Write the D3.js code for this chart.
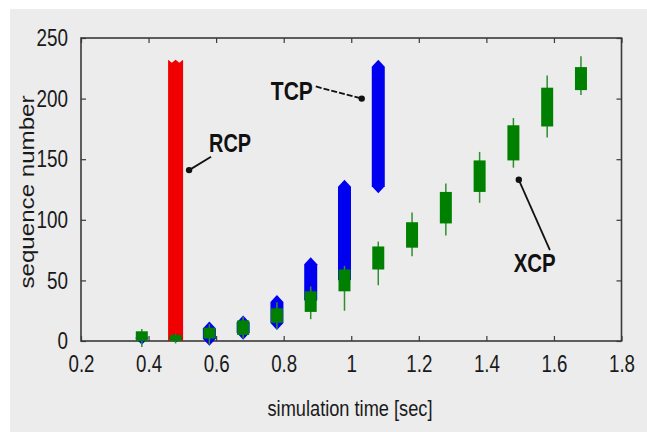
<!DOCTYPE html>
<html><head><meta charset="utf-8">
<script src="https://cdn.jsdelivr.net/npm/d3@7"></script>
<style>html,body{margin:0;padding:0;background:#fff;}svg{display:block;}</style>
</head><body>
<script>
// ---- data ----
const xTicks = [0.2,0.4,0.6,0.8,1,1.2,1.4,1.6,1.8];
const xTickLabels = ["0.2","0.4","0.6","0.8","1","1.2","1.4","1.6","1.8"];
const yTicks = [0,50,100,150,200,250];
const yTickLabels = ["0","50","100","150","200","250"];

const rcpTime = [0.48];
const rcpLow = [0];
const rcpHigh = [232];

const tcpTime = [0.38,0.48,0.58,0.68,0.78,0.88,0.98,1.08];
const tcpLow  = [-3,-1,-4,1,9,28,45,122];
const tcpHigh = [8,6,16,21,38,69,133,232];

const xcpTime      = [0.38,0.48,0.58,0.68,0.78,0.88,0.98,1.08,1.18,1.28,1.38,1.48,1.58,1.68];
const xcpBoxLow    = [0,0,2,5,15,24,41,59,77,97,123,149,177,207];
const xcpBoxHigh   = [8,5,11,17,27,41,59,78,98,123,149,178,209,226];
const xcpWhiskLow  = [-5,-2,-3,2,10,18,25,46,70,87,114,143,168,203];
const xcpWhiskHigh = [10,6,14,20,32,45,62,82,106,130,156,184,219,235];

const annLabels = ["RCP","TCP","XCP"];
const annTextPos = [[0.579,156],[0.762,199],[1.481,57]];
const annLineFrom = [[0.585,152],[0.895,210],[1.588,75]];
const annLineTo = [[0.52,141],[1.031,200],[1.496,133]];

// ---- drawing ----
const W = 647, H = 432;
const svg = d3.select("body").append("svg").attr("width", W).attr("height", H);
svg.append("rect").attr("width", W).attr("height", H).attr("fill", "#fff");
svg.append("rect").attr("x", 10).attr("y", 9).attr("width", W-10).attr("height", H-9).attr("fill", "#ececec");

const x = d3.scaleLinear().domain([0.2,1.8]).range([81,621.5]);
const y = d3.scaleLinear().domain([0,250]).range([341,38]);

const FONT = "'Liberation Sans',Arial,sans-serif";
const axisColor = "#3a3a3a";
// narrow look: compress text to a target length
const narrowLen = s => s.split("").reduce((a,c)=> a + (c === "." ? 5 : 10.5), 0);

// frame
svg.append("rect").attr("x", x(0.2)).attr("y", y(250)).attr("width", x(1.8)-x(0.2)).attr("height", y(0)-y(250))
  .attr("fill", "none").attr("stroke", axisColor).attr("stroke-width", 1.6);

// axes (inward ticks)
const xAxisB = d3.axisBottom(x).tickValues(xTicks).tickSize(-5).tickFormat((d,i)=>xTickLabels[i]).tickPadding(14);
const xAxisT = d3.axisTop(x).tickValues(xTicks).tickSize(-5).tickFormat("");
const yAxisL = d3.axisLeft(y).tickValues(yTicks).tickSize(-5).tickFormat((d,i)=>yTickLabels[i]).tickPadding(13);
const yAxisR = d3.axisRight(y).tickValues(yTicks).tickSize(-5).tickFormat("");

function styleAxis(sel){
  sel.select(".domain").remove();
  sel.selectAll(".tick line").attr("stroke", axisColor).attr("stroke-width", 1.2);
  sel.selectAll(".tick text").attr("fill", "#1a1a1a").style("font-family", FONT).style("font-size", "24px")
    .attr("textLength", function(){ return narrowLen(this.textContent); })
    .attr("lengthAdjust", "spacingAndGlyphs");
}
svg.append("g").attr("transform", `translate(0,${y(0)})`).call(xAxisB).call(styleAxis)
  .selectAll(".tick text").attr("dy", "0.71em");
svg.append("g").attr("transform", `translate(0,${y(250)})`).call(xAxisT).call(styleAxis);
svg.append("g").attr("transform", `translate(${x(0.2)},0)`).call(yAxisL).call(styleAxis);
svg.append("g").attr("transform", `translate(${x(1.8)},0)`).call(yAxisR).call(styleAxis);

// RCP red bar
svg.append("g").selectAll("path").data(rcpTime).join("path")
  .attr("fill", "#f00000")
  .attr("d", (t,i) => {
    const cx = x(t), w = 15, yt = y(rcpHigh[i]), yb = y(rcpLow[i]);
    return `M${cx-w/2},${yb} L${cx-w/2},${yt} L${cx-w/4},${yt+3} L${cx},${yt} L${cx+w/4},${yt+3} L${cx+w/2},${yt} L${cx+w/2},${yb} Z`;
  });

// TCP blue hexagonal bars
svg.append("g").selectAll("path").data(tcpTime).join("path")
  .attr("fill", "#0000f0")
  .attr("d", (t,i) => {
    const cx = x(t), w = 13, yt = y(tcpHigh[i]), yb = y(tcpLow[i]);
    const c = Math.min(7, (yb-yt)/2);
    return `M${cx},${yt} L${cx+w/2},${yt+c} L${cx+w/2},${yb-c} L${cx},${yb} L${cx-w/2},${yb-c} L${cx-w/2},${yt+c} Z`;
  });

// XCP green boxes with whiskers
const gx = svg.append("g");
gx.selectAll("line").data(xcpTime).join("line")
  .attr("x1", d=>x(d)).attr("x2", d=>x(d))
  .attr("y1", (d,i)=>y(xcpWhiskHigh[i])).attr("y2", (d,i)=>y(xcpWhiskLow[i]))
  .attr("stroke", "#2f8f2f").attr("stroke-width", 1.5);
gx.selectAll("rect").data(xcpTime).join("rect")
  .attr("x", d=>x(d)-6).attr("width", 12)
  .attr("y", (d,i)=>y(xcpBoxHigh[i])).attr("height", (d,i)=>y(xcpBoxLow[i])-y(xcpBoxHigh[i]))
  .attr("fill", "#008000");

// annotations
const ga = svg.append("g");
ga.selectAll("line").data(annLabels).join("line")
  .attr("x1", (d,i)=>x(annLineFrom[i][0])).attr("y1", (d,i)=>y(annLineFrom[i][1]))
  .attr("x2", (d,i)=>x(annLineTo[i][0])).attr("y2", (d,i)=>y(annLineTo[i][1]))
  .attr("stroke", "#111").attr("stroke-width", 1.8)
  .attr("stroke-dasharray", (d,i)=> i === 1 ? "6,2" : null);
ga.selectAll("circle").data(annLabels).join("circle")
  .attr("cx", (d,i)=>x(annLineTo[i][0])).attr("cy", (d,i)=>y(annLineTo[i][1])).attr("r", 3.2)
  .attr("fill", "#111");
ga.selectAll("text").data(annLabels).join("text")
  .attr("x", (d,i)=>x(annTextPos[i][0])).attr("y", (d,i)=>y(annTextPos[i][1]))
  .attr("fill", "#111").style("font-family", FONT).style("font-weight", "bold").style("font-size", "25px")
  .attr("textLength", 42).attr("lengthAdjust", "spacingAndGlyphs")
  .text(d=>d);

// axis titles
svg.append("text").attr("x", 350).attr("y", 416).attr("text-anchor", "middle")
  .attr("fill", "#1a1a1a").style("font-family", FONT).style("font-size", "22px")
  .attr("textLength", 165).attr("lengthAdjust", "spacingAndGlyphs")
  .text("simulation time [sec]");
svg.append("text").attr("transform", "translate(34,192) rotate(-90)").attr("text-anchor", "middle")
  .attr("fill", "#1a1a1a").style("font-family", FONT).style("font-size", "21px")
  .attr("textLength", 193).attr("lengthAdjust", "spacingAndGlyphs")
  .text("sequence number");
</script>
</body></html>
